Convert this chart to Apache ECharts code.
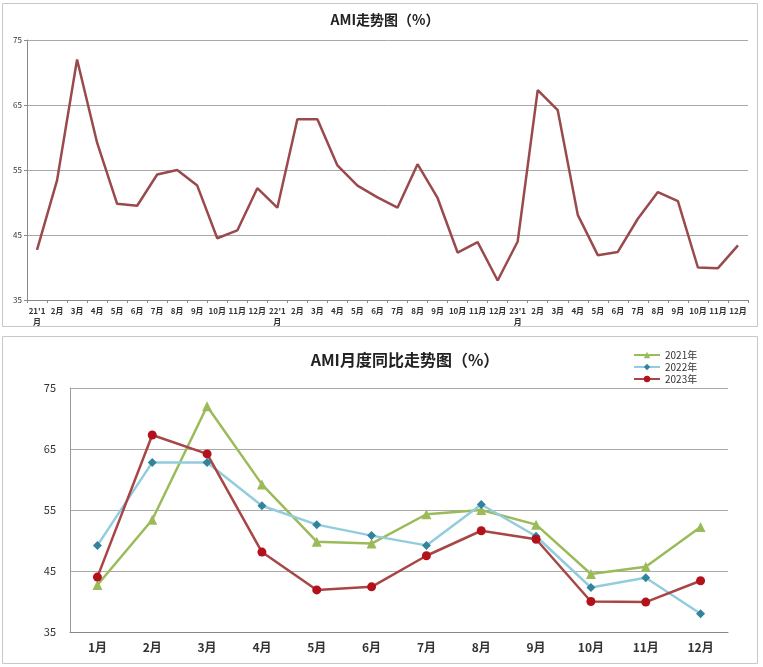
<!DOCTYPE html>
<html>
<head>
<meta charset="utf-8">
<script src="https://cdn.jsdelivr.net/npm/echarts@6/dist/echarts.min.js"></script>
<style>
  html, body { margin: 0; padding: 0; background: #fff; }
  #main { width: 763px; height: 667px; }
</style>
</head>
<body>
<div id="main"></div>
<script>
// months for the year-on-year chart
const months = ['1月', '2月', '3月', '4月', '5月', '6月', '7月', '8月', '9月', '10月', '11月', '12月']
// labels of the 36-month trend chart
const trendLabels = [
  "21'1\n月", '2月', '3月', '4月', '5月', '6月', '7月', '8月', '9月', '10月', '11月', '12月',
  "22'1\n月", '2月', '3月', '4月', '5月', '6月', '7月', '8月', '9月', '10月', '11月', '12月',
  "23'1\n月", '2月', '3月', '4月', '5月', '6月', '7月', '8月', '9月', '10月', '11月', '12月'
]
const ami2021 = [42.7, 53.4, 72.0, 59.2, 49.8, 49.5, 54.3, 55.0, 52.6, 44.5, 45.7, 52.2]
const ami2022 = [49.2, 62.8, 62.8, 55.7, 52.6, 50.8, 49.2, 55.9, 50.7, 42.3, 43.9, 38.0]
const ami2023 = [44.0, 67.3, 64.2, 48.1, 41.9, 42.4, 47.5, 51.6, 50.2, 40.0, 39.9, 43.4]
const yTicks = [35, 45, 55, 65, 75]

const trend = ami2021.concat(ami2022, ami2023)
const font = '"Noto Sans CJK SC", "Noto Sans", sans-serif'

var myChart = echarts.init(document.getElementById('main'))

option = {
  animation: false,
  textStyle: { fontFamily: font },
  graphic: [
    { type: 'rect', shape: { x: 2.5, y: 3.5, width: 755, height: 323 }, style: { fill: 'none', stroke: '#c8c8c8', lineWidth: 1 } },
    { type: 'rect', shape: { x: 2.5, y: 336.5, width: 755, height: 327 }, style: { fill: 'none', stroke: '#c8c8c8', lineWidth: 1 } }
  ],
  title: [
    {
      text: 'AMI走势图（%）',
      left: 380, top: 8, textAlign: 'center',
      textStyle: { fontSize: 14, fontWeight: 'bold', color: '#222', fontFamily: font }
    },
    {
      text: 'AMI月度同比走势图（%）',
      left: 400, top: 347, textAlign: 'center',
      textStyle: { fontSize: 16, fontWeight: 'bold', color: '#222', fontFamily: font }
    }
  ],
  legend: {
    orient: 'vertical',
    left: 628, top: 345,
    itemWidth: 26, itemHeight: 8, itemGap: 2,
    textStyle: { fontSize: 10, color: '#333', fontFamily: font },
    data: ['2021年', '2022年', '2023年']
  },
  grid: [
    { left: 27, right: 15, top: 40, height: 260 },
    { left: 70, right: 35, top: 388, height: 244 }
  ],
  xAxis: [
    {
      gridIndex: 0, type: 'category', data: trendLabels, boundaryGap: true,
      axisLine: { lineStyle: { color: '#888' } },
      axisTick: { show: true, alignWithLabel: false, length: 3, lineStyle: { color: '#888' } },
      axisLabel: { interval: 0, fontSize: 8, color: '#333', fontWeight: 'bold', lineHeight: 11, margin: 5 }
    },
    {
      gridIndex: 1, type: 'category', data: months, boundaryGap: true,
      axisLine: { lineStyle: { color: '#888' } },
      axisTick: { show: false },
      axisLabel: { interval: 0, fontSize: 12, color: '#333', fontWeight: 'bold', margin: 9 }
    }
  ],
  yAxis: [
    {
      gridIndex: 0, type: 'value', min: yTicks[0], max: yTicks[yTicks.length - 1], interval: 10,
      axisLine: { show: true, lineStyle: { color: '#888' } },
      axisTick: { show: true, length: 3, lineStyle: { color: '#888' } },
      axisLabel: { fontSize: 8, color: '#333', margin: 5 },
      splitLine: { lineStyle: { color: '#a8a8a8', width: 1 } }
    },
    {
      gridIndex: 1, type: 'value', min: yTicks[0], max: yTicks[yTicks.length - 1], interval: 10,
      axisLine: { show: true, lineStyle: { color: '#999' } },
      axisTick: { show: false },
      axisLabel: { fontSize: 11, color: '#333', margin: 14 },
      splitLine: { lineStyle: { color: '#aaa', width: 1 } }
    }
  ],
  series: [
    {
      name: 'AMI', type: 'line', xAxisIndex: 0, yAxisIndex: 0,
      data: trend, showSymbol: false, symbol: 'none',
      lineStyle: { color: '#9a4a4c', width: 2.5 }
    },
    {
      name: '2021年', type: 'line', xAxisIndex: 1, yAxisIndex: 1,
      data: ami2021, symbol: 'triangle', symbolSize: 10,
      itemStyle: { color: '#9bbb59' },
      lineStyle: { color: '#9bbb59', width: 2.5 }
    },
    {
      name: '2022年', type: 'line', xAxisIndex: 1, yAxisIndex: 1,
      data: ami2022, symbol: 'diamond', symbolSize: 9,
      itemStyle: { color: '#31849b' },
      lineStyle: { color: '#93cddd', width: 2.5 }
    },
    {
      name: '2023年', type: 'line', xAxisIndex: 1, yAxisIndex: 1,
      data: ami2023, symbol: 'circle', symbolSize: 9,
      itemStyle: { color: '#b3121c' },
      lineStyle: { color: '#a84646', width: 2.5 }
    }
  ]
}

myChart.setOption(option)
</script>
</body>
</html>
